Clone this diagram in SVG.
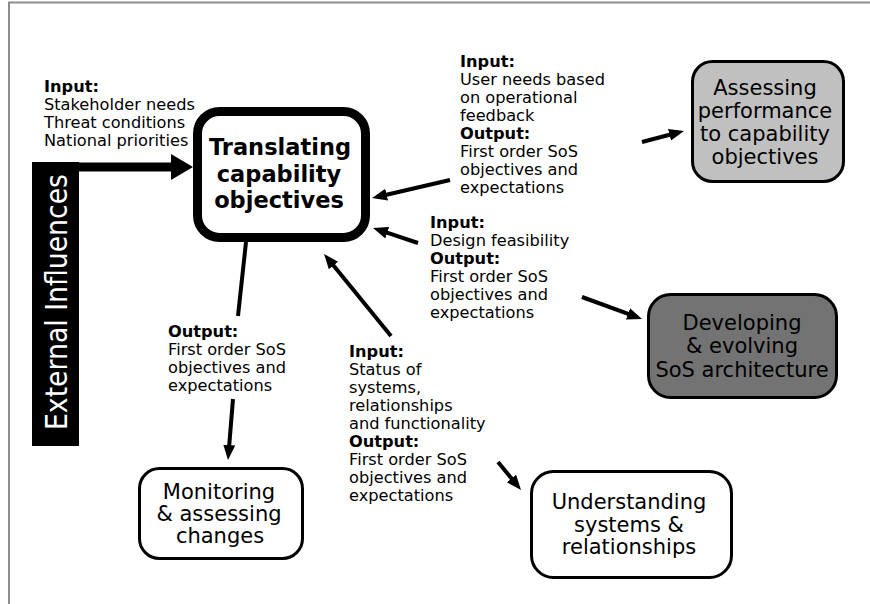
<svg xmlns="http://www.w3.org/2000/svg" width="870" height="604" viewBox="0 0 870 604">
<style>
.lbl{font-family:"DejaVu Sans",Verdana,sans-serif;font-size:16.2px;fill:#000}
.b{font-weight:bold}
.nt{font-family:"DejaVu Sans",Verdana,sans-serif;font-size:21px;fill:#000;text-anchor:middle}
.tt{font-size:22.5px;font-weight:bold}
.box{stroke:#000;stroke-width:3}
.con{stroke:#000;stroke-width:4;fill:none}
</style>
<defs>
<marker id="ah" viewBox="0 0 10 10" refX="6" refY="5" markerWidth="15" markerHeight="15" markerUnits="userSpaceOnUse" orient="auto">
<path d="M0,1 L10,5 L0,9 z" fill="#000"/>
</marker>
</defs>
<rect x="0" y="0" width="870" height="604" fill="#fff"/>
<rect x="9" y="2.5" width="900" height="700" fill="none" stroke="#8c8c8c" stroke-width="2"/>

<g id="external">
<rect x="32" y="162" width="47" height="284" fill="#000"/>
<text transform="translate(67,302) rotate(-90)" x="0" y="0" font-family="DejaVu Sans,Verdana,sans-serif" font-size="30" fill="#fff" text-anchor="middle" textLength="256" lengthAdjust="spacingAndGlyphs">External Influences</text>
</g>

<g id="translating">
<rect x="197.5" y="111.5" width="168" height="126" rx="22" fill="#fff" stroke="#000" stroke-width="9"/>
<text class="nt tt" x="280" y="155">Translating</text>
<text class="nt tt" x="279" y="181.5">capability</text>
<text class="nt tt" x="279" y="208">objectives</text>
</g>

<g id="assessing">
<rect class="box" x="692.5" y="61.5" width="151" height="120" rx="20" fill="#c0c0c0"/>
<text class="nt" x="765" y="95">Assessing</text>
<text class="nt" x="765" y="118">performance</text>
<text class="nt" x="765" y="141">to capability</text>
<text class="nt" x="765" y="164">objectives</text>
</g>

<g id="developing">
<rect class="box" x="648.5" y="294.5" width="188" height="103" rx="22" fill="#737373"/>
<text class="nt" x="742" y="330" fill="#111">Developing</text>
<text class="nt" x="742" y="353" fill="#111">&amp; evolving</text>
<text class="nt" x="742" y="377" fill="#111">SoS architecture</text>
</g>

<g id="monitoring">
<rect class="box" x="139.5" y="468.5" width="163" height="90" rx="20" fill="#fff"/>
<text class="nt" x="219" y="499">Monitoring</text>
<text class="nt" x="219" y="521">&amp; assessing</text>
<text class="nt" x="220" y="543">changes</text>
</g>

<g id="understanding">
<rect class="box" x="531.5" y="471.5" width="200" height="106" rx="22" fill="#fff"/>
<text class="nt" x="629" y="509">Understanding</text>
<text class="nt" x="629" y="532">systems &amp;</text>
<text class="nt" x="629" y="554">relationships</text>
</g>

<g id="labels">
<text class="lbl"><tspan class="b" x="44" y="92">Input:</tspan><tspan x="44" y="110">Stakeholder needs</tspan><tspan x="44" y="128">Threat conditions</tspan><tspan x="44" y="146">National priorities</tspan></text>
<text class="lbl"><tspan class="b" x="460" y="67">Input:</tspan><tspan x="460" y="85">User needs based</tspan><tspan x="460" y="103">on operational</tspan><tspan x="460" y="121">feedback</tspan><tspan class="b" x="460" y="139">Output:</tspan><tspan x="460" y="157">First order SoS</tspan><tspan x="460" y="175">objectives and</tspan><tspan x="460" y="193">expectations</tspan></text>
<text class="lbl"><tspan class="b" x="430" y="228">Input:</tspan><tspan x="430" y="246">Design feasibility</tspan><tspan class="b" x="430" y="264">Output:</tspan><tspan x="430" y="282">First order SoS</tspan><tspan x="430" y="300">objectives and</tspan><tspan x="430" y="318">expectations</tspan></text>
<text class="lbl"><tspan class="b" x="168" y="337">Output:</tspan><tspan x="168" y="355">First order SoS</tspan><tspan x="168" y="373">objectives and</tspan><tspan x="168" y="391">expectations</tspan></text>
<text class="lbl"><tspan class="b" x="349" y="357">Input:</tspan><tspan x="349" y="375">Status of</tspan><tspan x="349" y="393">systems,</tspan><tspan x="349" y="411">relationships</tspan><tspan x="349" y="429">and functionality</tspan><tspan class="b" x="349" y="447">Output:</tspan><tspan x="349" y="465">First order SoS</tspan><tspan x="349" y="483">objectives and</tspan><tspan x="349" y="501">expectations</tspan></text>
</g>

<g id="connectors">
<line x1="79" y1="167" x2="174" y2="167" stroke="#000" stroke-width="9"/>
<polygon points="171,154 193,167 171,180" fill="#000"/>
<line class="con" x1="450" y1="180" x2="377.9" y2="196.7" marker-end="url(#ah)"/>
<line class="con" x1="642" y1="142" x2="678.2" y2="132.5" marker-end="url(#ah)"/>
<line class="con" x1="418" y1="243" x2="378.7" y2="229.9" marker-end="url(#ah)"/>
<line class="con" x1="582" y1="297" x2="636.4" y2="316.9" marker-end="url(#ah)"/>
<line class="con" x1="391" y1="336" x2="327.8" y2="258.6" marker-end="url(#ah)"/>
<line class="con" x1="498" y1="462" x2="517.2" y2="485.4" marker-end="url(#ah)"/>
<line class="con" x1="233" y1="399" x2="228.5" y2="454" marker-end="url(#ah)"/>
<line class="con" x1="246" y1="242" x2="238" y2="316"/>
</g>
</svg>
